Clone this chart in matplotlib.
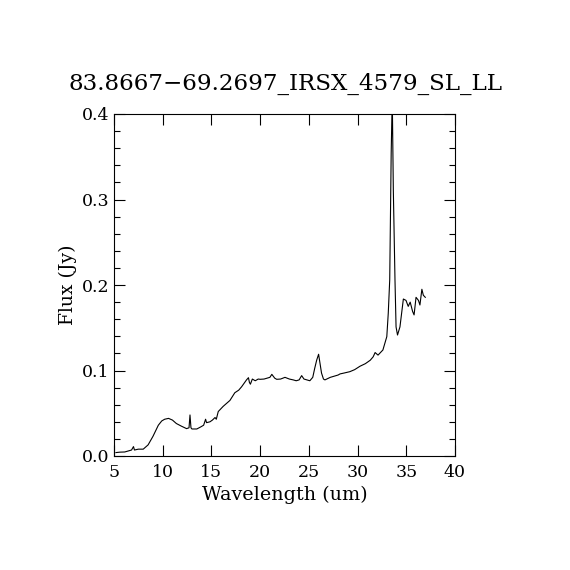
import matplotlib
matplotlib.use("Agg")
import matplotlib.pyplot as plt
from matplotlib.ticker import MultipleLocator

title = "83.8667\u221269.2697_IRSX_4579_SL_LL"

wavelength = [5.2, 5.6, 6.1, 6.5, 6.8, 7.0, 7.1, 7.5, 8.0, 8.5, 9.0, 9.55, 9.9, 10.2, 10.6,
              11.0, 11.4, 11.9, 12.45, 12.7, 12.8, 12.9, 13.0, 13.5, 13.9, 14.2, 14.4, 14.5,
              14.85, 15.1, 15.37, 15.5, 15.7, 16.2, 16.9, 17.4, 17.8, 18.1, 18.6, 18.8, 18.9,
              19.0, 19.2, 19.5, 19.8, 20.0, 20.4, 20.7, 21.0, 21.2, 21.5, 21.7, 22.1, 22.55,
              23.0, 23.4, 23.7, 24.0, 24.26, 24.5, 24.8, 25.1, 25.4, 25.6, 25.8, 26.0, 26.15,
              26.3, 26.5, 26.65, 27.2, 28.0, 28.2, 28.6, 29.2, 29.7, 30.25, 30.8, 31.3, 31.6,
              31.8, 32.1, 32.6, 33.0, 33.15, 33.3, 33.45, 33.56, 33.67, 33.84, 33.95, 34.1,
              34.35, 34.7, 34.97, 35.2, 35.4, 35.65, 35.8, 36.0, 36.25, 36.4, 36.6, 36.75,
              36.95]
flux = [0.004, 0.0045, 0.0047, 0.006, 0.007, 0.011, 0.007, 0.008, 0.008, 0.013, 0.023, 0.036,
        0.041, 0.043, 0.044, 0.042, 0.038, 0.035, 0.032, 0.033, 0.048, 0.033, 0.0316, 0.0316,
        0.034, 0.036, 0.043, 0.039, 0.040, 0.042, 0.045, 0.043, 0.052, 0.058, 0.065, 0.074,
        0.077, 0.081, 0.089, 0.0916, 0.086, 0.084, 0.090, 0.088, 0.090, 0.0897, 0.090, 0.091,
        0.092, 0.0955, 0.091, 0.0897, 0.090, 0.092, 0.090, 0.089, 0.088, 0.089, 0.094, 0.090,
        0.089, 0.088, 0.092, 0.1025, 0.112, 0.119, 0.108, 0.097, 0.090, 0.089, 0.092, 0.0947,
        0.096, 0.097, 0.0986, 0.101, 0.105, 0.108, 0.112, 0.116, 0.121, 0.118, 0.124, 0.1396,
        0.167, 0.206, 0.354, 0.42, 0.311, 0.206, 0.151, 0.1415, 0.151, 0.1836, 0.182, 0.175,
        0.18, 0.169, 0.165, 0.1856, 0.182, 0.1766, 0.195, 0.188, 0.1856]

x_ticks = [5, 10, 15, 20, 25, 30, 35, 40]
y_ticks = [0.0, 0.1, 0.2, 0.3, 0.4]

fig = plt.figure(figsize=(5.7, 5.7), dpi=100)
ax = fig.add_axes([114/570, 1 - 456/570, 341/570, 342/570])
ax.plot(wavelength, flux, color="black", lw=0.8)
ax.set_xlim(5, 40)
ax.set_ylim(0, 0.4)
ax.set_xticks(x_ticks)
ax.set_xticklabels([str(t) for t in x_ticks])
ax.set_yticks(y_ticks)
ax.set_yticklabels(["%.1f" % t for t in y_ticks])
ax.yaxis.set_minor_locator(MultipleLocator(0.02))
ax.tick_params(which="both", direction="in", top=True, right=True, width=0.8, labelsize=12.5)
ax.tick_params(which="major", length=8)
ax.tick_params(which="minor", length=4)
ax.tick_params(axis="x", pad=6)
for lab in ax.get_xticklabels() + ax.get_yticklabels():
    lab.set_family("DejaVu Serif")
for s in ax.spines.values():
    s.set_linewidth(0.8)
ax.set_xlabel("Wavelength (um)", family="DejaVu Serif", fontsize=13.8, labelpad=3)
ax.set_ylabel("Flux (Jy)", family="DejaVu Serif", fontsize=13.5, labelpad=3)
fig.text(0.5, 1 - 84/570, title, ha="center", va="center", family="DejaVu Serif", fontsize=16.6)
fig.savefig("out.png", dpi=100)
